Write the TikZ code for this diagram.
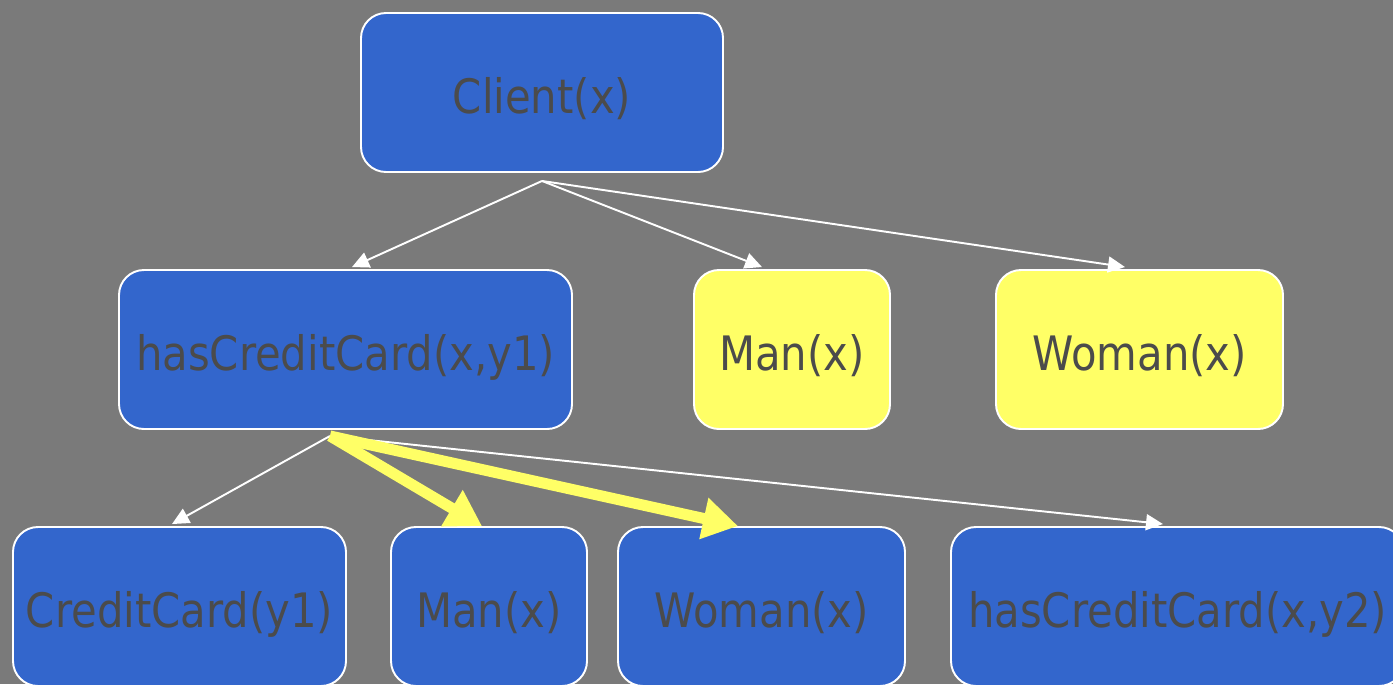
\documentclass[tikz,border=0pt]{standalone}
\usepackage{fontspec}
\setmainfont{DejaVu Sans}[FakeStretch=0.88]
\usepackage{xcolor}
\usepackage{tikz}
\usetikzlibrary{arrows.meta, positioning, calc}

\definecolor{slidegray}{HTML}{7A7A7A}
\definecolor{boxblue}{HTML}{3366CC}
\definecolor{boxyellow}{HTML}{FFFF66}
\definecolor{labelgray}{HTML}{4B4B4B}

\begin{document}
\begin{tikzpicture}[
    literal/.style={
        rectangle, rounded corners=0.5cm, draw=white, line width=1.1pt,
        fill=boxblue, minimum height=3.18cm, inner sep=0pt,
        text height=0.98cm, text depth=0.13cm,
        align=center, text=labelgray, font=\fontsize{27}{30}\selectfont
    },
    chosen/.style={literal, fill=boxyellow},
    refine/.style={-{Triangle[length=0.34cm, width=0.32cm]}, draw=white, line width=1.1pt},
    pick/.style={-{Triangle[length=0.7cm, width=0.8cm]}, draw=boxyellow, line width=0.22cm}
]

% background of the slide, also fixes the page size
\fill[slidegray] (0,0) rectangle (27.86,-13.68);
\useasboundingbox (0,0) rectangle (27.86,-13.68);

% 1. Root literal
\node[literal, minimum width=7.24cm] (client) at (10.84, -1.85) {Client(x)};

% 2. First refinement level
\node[literal, minimum width=9.06cm] (hcc1) at (6.91, -6.99) {hasCreditCard(x,y1)};
\node[chosen, minimum width=3.92cm] (man1) at (15.84, -6.99) {Man(x)};
\node[chosen, minimum width=5.74cm] (woman1) at (22.79, -6.99) {Woman(x)};

% 3. Second refinement level (cut by the page edge)
\node[literal, minimum width=6.66cm] (cc) at (3.59, -12.13) {CreditCard(y1)};
\node[literal, minimum width=3.92cm] (man2) at (9.78, -12.13) {Man(x)};
\node[literal, minimum width=5.74cm] (woman2) at (15.23, -12.13) {Woman(x)};
\node[literal, minimum width=9.06cm] (hcc2) at (23.55, -12.13) {hasCreditCard(x,y2)};

% 4. Refinement edges
% both fans start a little below their parent box
\coordinate (fork1) at ([yshift=-0.16cm]client.south);
\coordinate (fork2) at ([xshift=-0.31cm, yshift=-0.12cm]hcc1.south);

\draw[refine] (fork1) -- ([xshift=0.13cm, yshift=0.04cm]hcc1.north);
\draw[refine] (fork1) -- ([xshift=-0.6cm, yshift=0.04cm]man1.north);
\draw[refine] (fork1) -- ([xshift=-0.29cm, yshift=0.04cm]woman1.north);

\draw[refine] (fork2) -- ([xshift=-0.15cm, yshift=0.04cm]cc.north);
\draw[refine] (fork2) -- ([xshift=-0.29cm, yshift=0.04cm]hcc2.north);

% the highlighted refinements
\draw[pick] (fork2) -- ([xshift=-0.14cm]man2.north);
\draw[pick] (fork2) -- ([xshift=-0.47cm]woman2.north);

\end{tikzpicture}
\end{document}
